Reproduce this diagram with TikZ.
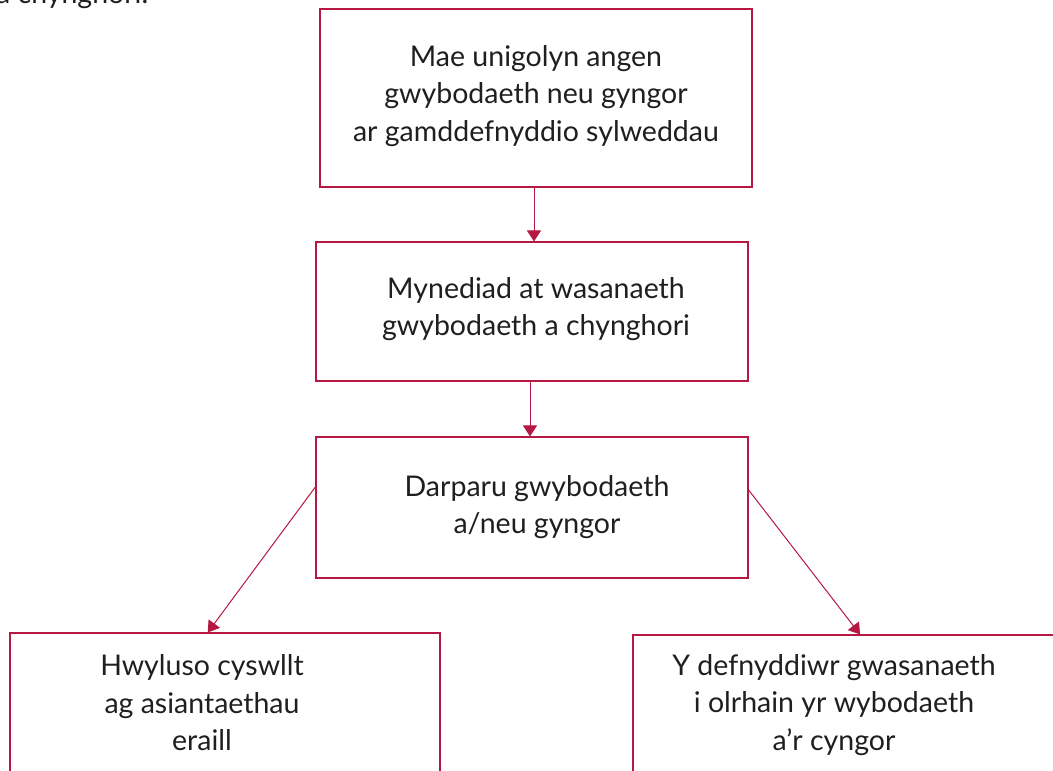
\documentclass[tikz,border=0pt]{standalone}
\usepackage{fontspec}
\setmainfont{Lato}
\usetikzlibrary{arrows.meta,calc}
\definecolor{crim}{RGB}{181,24,66}
\begin{document}
\begin{tikzpicture}[x=1pt,y=-1pt,
  box/.style={draw=crim, line width=1.1pt, inner sep=0pt},
  lbl/.style={align=center, font=\fontsize{28.5}{37.5}\selectfont, text=black!88, inner sep=0pt},
  conn/.style={draw=crim, line width=1pt, -{Triangle[width=14pt,length=11pt]}}]
\useasboundingbox (0,0) rectangle (1053,771);
\clip (0,0) rectangle (1053,771);
\node[lbl, anchor=base west] (cap) at (-4,4) {a chynghori.};
% boxes
\node[box, minimum width=432pt, minimum height=178pt] (b1) at (536,98) {};
\node[box, minimum width=432pt, minimum height=139pt] (b2) at (532,311.5) {};
\node[box, minimum width=432pt, minimum height=141pt] (b3) at (532,507.5) {};
\node[box, minimum width=430pt, minimum height=170pt] (b4) at (225,718) {};
\node[box, minimum width=447pt, minimum height=170pt] (b5) at (856.5,720) {};
% texts
\node[lbl] (t1) at (536,96) {Mae unigolyn angen\\gwybodaeth neu gyngor\\ar gamddefnyddio sylweddau};
\node[lbl] (t2) at (536,309) {Mynediad at wasanaeth\\gwybodaeth a chynghori};
\node[lbl] (t3) at (537,507) {Darparu gwybodaeth\\a/neu gyngor};
\node[lbl] (t4) at (202,703) {Hwyluso cyswllt\\ag asiantaethau\\eraill};
\node[lbl] (t5) at (834,705) {Y defnyddiwr gwasanaeth\\i olrhain yr wybodaeth\\a’r cyngor};
% connector end points
\coordinate (a1s) at ($(b1.south)+(-2,0)$);
\coordinate (a1e) at (a1s |- b2.north);
\coordinate (a2s) at ($(b2.south)+(-2,0)$);
\coordinate (a2e) at (a2s |- b3.north);
% connectors
\draw[conn] (a1s) -- (a1e);
\draw[conn] (a2s) -- (a2e);
\draw[conn] ($(b3.north west)!0.355!(b3.south west)$) -- ($(b4.north west)!0.46!(b4.north east)$);
\draw[conn] ($(b3.north east)!0.376!(b3.south east)$) -- ($(b5.north west)!0.508!(b5.north east)$);
\end{tikzpicture}
\end{document}
